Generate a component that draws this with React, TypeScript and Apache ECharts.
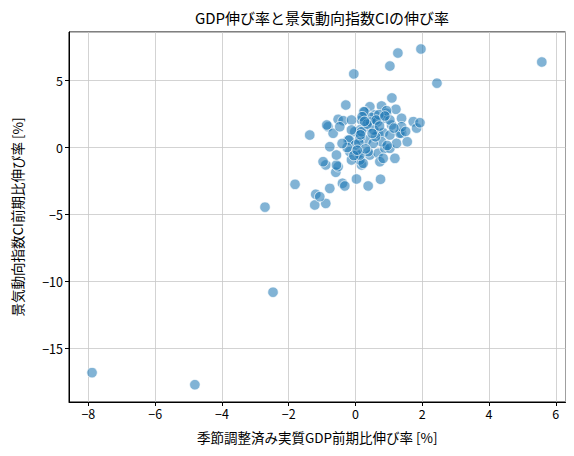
import React, { useEffect, useRef } from "react";
import * as echarts from "echarts";

const titleText = "GDP伸び率と景気動向指数CIの伸び率";
const xName = "季節調整済み実質GDP前期比伸び率 [%]";
const yName = "景気動向指数CI前期比伸び率 [%]";

const gdpGrowth: number[] = [
  -7.89, -4.81, -2.47, -2.71, -1.81, -1.37, -0.05, 1.03, 1.27, 1.96, 2.44, 5.58,
  -1.22, -0.89, -1.19, -1.07, -0.77, -0.39, -0.32, 0.03, 0.38, 0.75, -0.59, -0.52, -0.89, -0.97, 0.18, -0.57,
  -0.77, -0.57, -0.17, 0.08, 0.13, -0.12, 0.43, 0.68, 1.18, 0.73, 0.23, 0.88, 1.03, 0.38, 0.83, 0.13,
  -0.29, 0.43, 0.78, 1.09, 1.21, 0.93, 0.28, 0.58, 1.38, 1.73, 1.83, 1.93, -0.82, -0.52, -0.37, -0.12,
  0.18, 0.38, 0.13, -0.02, 0.68, 0.83, 1.08, 1.38, 1.23, 1.55, -0.67, -0.22, 0.33, 0.78, 0.53, -0.86,
  -0.47, -0.12, 0.48, 0.83, 1.03, 1.33, 1.03, 1.38, -0.19, 0.13, 0.18, 0.93, 0.25, 0.6, 0.0, 0.45,
  -0.25, 0.1, 0.65, 1.15, 0.55, 0.95, -0.05, 0.3, 0.7, 1.5, -0.4, 0.2,
  0.35, 0.62, 0.15, 0.72, 0.05, 0.5, 0.88, 0.27,
];
const ciGrowth: number[] = [
  -16.8, -17.7, -10.8, -4.45, -2.75, 0.93, 5.49, 6.08, 7.05, 7.35, 4.8, 6.38,
  -4.29, -4.17, -3.49, -3.67, -3.05, -2.67, -2.87, -2.35, -2.87, -2.37, -1.85, -1.43, -1.3, -1.06, -1.3, -1.31,
  0.06, -0.56, -0.31, -0.43, -0.93, -0.93, -0.56, -0.43, -0.81, -1.06, -1.18, -0.06, -0.06, -0.31, -0.81, -0.56,
  3.17, 3.04, 3.1, 3.7, 2.85, 2.55, 2.67, 2.43, 2.18, 1.93, 1.45, 1.85, 1.55, 2.1, 2.0, 2.05,
  2.05, 1.55, 1.31, 1.18, 1.06, 1.1, 1.68, 1.06, 0.31, 0.43, 1.06, 0.56, 0.56, 0.43, 0.31, 1.68,
  1.55, 1.31, 2.25, 2.18, 2.05, 1.06, 0.93, 1.55, 0.56, 0.69, 1.18, 2.75, 2.67, 0.8, 0.2, 1.9,
  0.0, 0.35, 1.9, 1.45, 1.3, 0.15, -0.6, -0.1, 2.45, 1.2, 0.3, 2.3,
  1.75, 2.05, 0.95, 1.6, -0.2, 1.05, 2.35, 1.95,
];

const xMin = -8.58;
const xMax = 6.29;
const yMin = -18.99;
const yMax = 8.62;

const FONT = "'Noto Sans CJK JP', 'DejaVu Sans', sans-serif";

export default function App() {
  const ref = useRef<HTMLDivElement>(null);
  useEffect(() => {
    if (!ref.current) return;
    const chart = echarts.init(ref.current, undefined, { renderer: "svg" });
    const data = gdpGrowth.map((x, i) => [x, ciGrowth[i]]);
    const fmt = (v: number) => String(v).replace("-", "\u2212");
    chart.setOption({
      animation: false,
      backgroundColor: "#ffffff",
      textStyle: { fontFamily: FONT },
      title: {
        text: titleText,
        left: 317,
        top: 5,
        textAlign: "center",
        textStyle: { fontFamily: FONT, fontSize: 15, fontWeight: "normal", color: "#000" },
      },
      grid: {
        left: 69,
        top: 32,
        right: 8.5,
        bottom: 54,
        show: true,
        borderColor: "#000",
        borderWidth: 1,
        backgroundColor: "transparent",
      },
      xAxis: {
        type: "value",
        min: xMin,
        max: xMax,
        splitNumber: 7,
        name: xName,
        nameLocation: "middle",
        nameGap: 28,
        nameTextStyle: { fontFamily: FONT, fontSize: 13.5, color: "#000" },
        axisLine: { show: true, onZero: false, lineStyle: { color: "#000", width: 1 } },
        axisTick: { show: true, inside: false, length: 4, lineStyle: { color: "#000" } },
        axisLabel: {
          showMinLabel: false,
          showMaxLabel: false,
          formatter: fmt,
          fontFamily: FONT,
          fontSize: 12.5,
          color: "#000",
          margin: 5,
        },
        splitLine: { show: true, lineStyle: { color: "#c8c8c8", width: 0.8 } },
      },
      yAxis: {
        type: "value",
        min: yMin,
        max: yMax,
        splitNumber: 5,
        name: yName,
        nameLocation: "middle",
        nameGap: 45,
        nameTextStyle: { fontFamily: FONT, fontSize: 13.5, color: "#000" },
        axisLine: { show: true, onZero: false, lineStyle: { color: "#000", width: 1 } },
        axisTick: { show: true, inside: false, length: 4, lineStyle: { color: "#000" } },
        axisLabel: {
          showMinLabel: false,
          showMaxLabel: false,
          formatter: fmt,
          fontFamily: FONT,
          fontSize: 12.5,
          color: "#000",
          margin: 6,
        },
        splitLine: { show: true, lineStyle: { color: "#c8c8c8", width: 0.8 } },
      },
      series: [
        {
          type: "scatter",
          data,
          symbolSize: 10.5,
          itemStyle: {
            color: "rgba(31,119,180,0.7)",
            borderColor: "rgba(255,255,255,0.85)",
            borderWidth: 1,
          },
        },
      ],
    });
    return () => chart.dispose();
  }, []);
  return (
    <div
      ref={ref}
      style={{ position: "absolute", left: 0, top: 0, width: 574, height: 456 }}
    />
  );
}
